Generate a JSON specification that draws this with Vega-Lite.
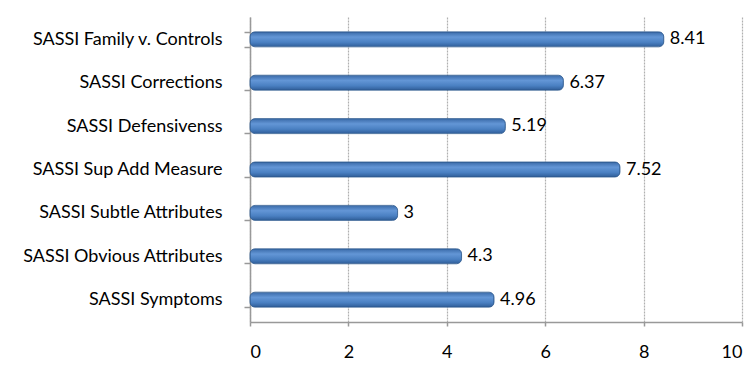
{
  "$schema": "https://vega.github.io/schema/vega-lite/v6.json",
  "autosize": {"type": "none"},
  "width": 492,
  "height": 305,
  "padding": {"left": 250, "top": 17, "right": 5, "bottom": 44},
  "background": "white",
  "config": {"view": {"stroke": null}, "font": "Lato"},
  "data": {
    "values": [
      {"measure": "SASSI Family  v. Controls", "value": 8.41},
      {"measure": "SASSI Corrections", "value": 6.37},
      {"measure": "SASSI Defensivenss", "value": 5.19},
      {"measure": "SASSI Sup  Add Measure", "value": 7.52},
      {"measure": "SASSI Subtle  Attributes", "value": 3},
      {"measure": "SASSI Obvious  Attributes", "value": 4.3},
      {"measure": "SASSI Symptoms", "value": 4.96}
    ]
  },
  "encoding": {
    "y": {
      "field": "measure",
      "type": "nominal",
      "sort": null,
      "scale": {"paddingInner": 0.67, "paddingOuter": 0.35},
      "axis": {
        "title": null,
        "labelFont": "Lato",
        "labelFontSize": 18,
        "labelColor": "#000000",
        "labelPadding": 22,
        "labelLimit": 240,
        "ticks": true,
        "tickBand": "extent",
        "tickSize": 6,
        "tickColor": "#999999",
        "tickWidth": 1.5,
        "domainColor": "#999999",
        "domainWidth": 1.5,
        "grid": false
      }
    },
    "x": {
      "field": "value",
      "type": "quantitative",
      "scale": {"domain": [0, 10], "nice": false},
      "axis": {
        "title": null,
        "values": [0, 2, 4, 6, 8, 10],
        "labelFont": "Lato",
        "labelFontSize": 18,
        "labelColor": "#000000",
        "labelPadding": 17,
        "tickSize": 4,
        "tickColor": "#999999",
        "tickWidth": 1.5,
        "domainColor": "#999999",
        "domainWidth": 1.5,
        "grid": true,
        "gridColor": "#b0b0b0",
        "gridWidth": 1.2,
        "gridDash": [2, 1]
      }
    }
  },
  "layer": [
    {
      "mark": {
        "type": "bar",
        "size": 15,
        "cornerRadius": 5,
        "stroke": "#2f5b8f",
        "strokeWidth": 0.8,
        "color": {
          "gradient": "linear",
          "x1": 0, "y1": 0, "x2": 0, "y2": 1,
          "stops": [
            {"offset": 0, "color": "#3a6aa8"},
            {"offset": 0.35, "color": "#6396d6"},
            {"offset": 0.7, "color": "#4a80c2"},
            {"offset": 1, "color": "#2f5d98"}
          ]
        }
      }
    },
    {
      "mark": {
        "type": "text",
        "align": "left",
        "baseline": "middle",
        "dx": 6,
        "font": "Lato",
        "fontSize": 18,
        "color": "#000000"
      },
      "encoding": {"text": {"field": "value", "type": "quantitative"}}
    }
  ]
}
